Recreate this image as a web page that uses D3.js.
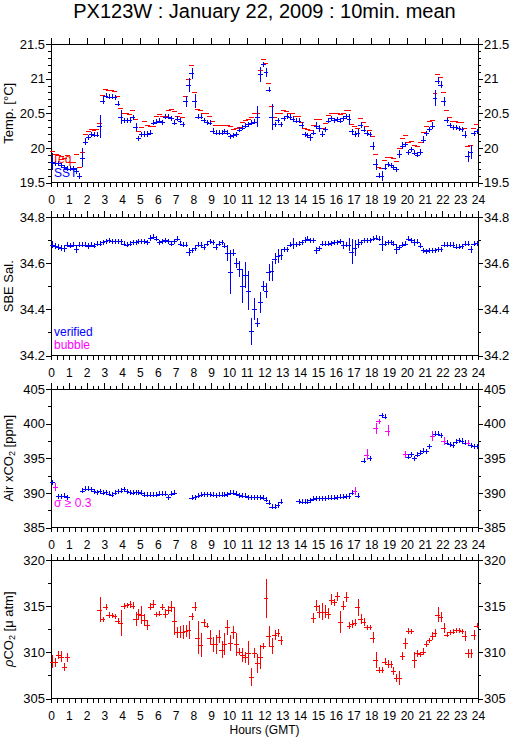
<!DOCTYPE html>
<html>
<head>
<meta charset="utf-8">
<script src="https://cdn.jsdelivr.net/npm/d3@7"></script>
<style>
  body { margin: 0; background: #fff; }
  svg { font-family: "Liberation Sans", Arial, Helvetica, sans-serif; }
</style>
</head>
<body>
<div id="chart"></div>
<script>
// PX123W, 22 Jan 2009 -- 10 minute means, 144 bins per day (null = no data)

// Temperature [degC]
var sst = [19.80,19.78,19.78,19.75,19.72,19.70,19.70,19.70,19.66,19.59,
  19.86,20.09,20.15,20.20,20.19,20.19,20.31,20.68,20.75,20.74,
  20.74,20.73,20.64,20.45,20.40,20.40,20.40,20.44,20.30,20.14,
  20.20,20.20,20.20,20.22,20.36,20.38,20.39,20.37,20.45,20.45,
  20.43,20.36,20.42,20.39,20.34,20.67,20.91,21.08,20.68,20.45,
  20.45,20.40,20.37,20.36,20.25,20.22,20.22,20.22,20.24,20.22,
  20.17,20.18,20.20,20.26,20.29,20.32,20.34,20.36,20.38,20.45,
  21.06,21.21,21.09,20.84,20.45,20.34,20.40,20.34,20.43,20.46,
  20.45,20.42,20.39,20.39,20.33,20.20,20.18,20.15,20.22,20.32,
  20.28,20.20,20.27,20.39,20.43,20.40,20.41,20.39,20.43,20.46,
  20.41,20.24,20.20,20.21,20.33,20.26,20.21,20.20,20.03,19.76,
  19.60,19.59,19.71,19.76,19.75,19.72,19.69,19.91,20.03,20.05,
  19.94,19.98,19.93,19.90,19.94,20.12,20.21,20.27,20.32,20.72,
  20.97,20.91,20.67,20.40,20.33,20.30,20.30,20.28,20.27,20.19,
  19.88,19.94,20.21,20.24];
var sstSd = [.12,.03,.03,.02,.03,.03,.02,.02,.02,.04,
  .14,.05,.02,.02,.02,.02,.17,.05,.02,.02,
  .02,.02,.04,.10,.02,.02,.02,.02,.06,.02,
  .02,.04,.04,.02,.02,.02,.02,.02,.03,.02,
  .02,.02,.02,.02,.04,.08,.10,.08,.10,.04,
  .02,.02,.02,.02,.02,.02,.02,.02,.02,.02,
  .02,.02,.02,.02,.02,.02,.02,.02,.02,.15,
  .11,.03,.07,.02,.19,.03,.03,.03,.03,.02,
  .02,.02,.02,.02,.04,.02,.02,.05,.02,.05,
  .05,.04,.02,.02,.02,.02,.02,.02,.02,.02,
  .08,.02,.05,.06,.04,.02,.02,.02,.06,.08,
  .04,.07,.02,.02,.02,.02,.03,.06,.05,.02,
  .03,.02,.02,.02,.05,.05,.02,.02,.05,.12,
  .05,.05,.07,.02,.02,.02,.02,.02,.02,.05,
  .08,.10,.03,.02];
var teq = [19.96,19.91,19.90,19.88,19.86,19.89,19.80,19.80,19.91,19.72,
  19.94,20.20,20.24,20.27,20.26,20.27,20.36,20.77,20.85,20.84,
  20.83,20.82,20.75,20.57,20.50,20.50,20.49,20.54,20.41,20.24,
  20.30,20.39,20.33,20.31,20.32,20.46,20.49,20.46,20.46,20.55,
  20.56,20.53,20.46,20.51,20.45,20.75,20.99,21.19,20.81,20.56,
  20.54,20.51,20.50,20.46,20.39,20.33,20.33,20.33,20.33,20.33,
  20.32,20.27,20.28,20.30,20.37,20.40,20.41,20.45,20.50,20.50,
  21.12,21.29,21.22,20.94,20.61,20.45,20.50,20.50,20.55,20.53,
  20.50,20.50,20.46,20.46,20.38,20.28,20.27,20.26,20.33,20.41,
  20.41,20.29,20.36,20.47,20.51,20.51,20.51,20.49,20.50,20.55,
  20.55,20.34,20.31,20.28,20.43,20.38,20.31,20.26,20.17,19.91,
  19.72,19.71,19.82,19.87,19.87,19.85,19.81,20.00,20.14,20.18,
  20.08,20.10,20.04,20.03,20.09,20.23,20.31,20.39,20.40,20.79,
  21.07,21.02,20.80,20.55,20.44,20.39,20.39,20.38,20.38,20.28,
  20.02,20.04,20.29,20.34];

// SBE salinity
var sal = [34.680,34.675,34.670,34.665,34.665,34.680,34.675,34.680,34.660,34.680,
  34.680,34.680,34.675,34.680,34.675,34.685,34.685,34.690,34.695,34.700,
  34.695,34.695,34.695,34.695,34.685,34.680,34.685,34.690,34.690,34.695,
  34.695,34.695,34.690,34.710,34.715,34.705,34.690,34.695,34.700,34.695,
  34.685,34.695,34.705,34.685,34.680,34.680,34.650,34.655,34.665,34.680,
  34.680,34.670,34.685,34.695,34.690,34.670,34.685,34.690,34.675,34.645,
  34.560,34.645,34.600,34.575,34.500,34.550,34.480,34.305,34.400,34.342,
  34.430,34.500,34.480,34.560,34.565,34.620,34.630,34.635,34.660,34.660,
  34.680,34.685,34.682,34.685,34.690,34.700,34.705,34.700,34.700,34.655,
  34.665,34.685,34.685,34.685,34.687,34.690,34.690,34.695,34.680,34.680,
  34.680,34.650,34.665,34.685,34.690,34.700,34.700,34.700,34.705,34.710,
  34.705,34.684,34.685,34.690,34.690,34.685,34.660,34.670,34.680,34.685,
  34.705,34.700,34.690,34.692,34.676,34.655,34.652,34.657,34.655,34.655,
  34.660,34.660,34.680,34.680,34.680,34.680,34.672,34.672,34.674,34.684,
  34.684,34.660,34.684,34.687];
var salSd = [.015,.012,.012,.012,.015,.010,.008,.010,.017,.008,
  .012,.012,.012,.008,.008,.008,.008,.008,.008,.008,
  .008,.008,.008,.008,.008,.008,.008,.008,.008,.008,
  .008,.008,.008,.012,.008,.008,.008,.008,.008,.008,
  .008,.008,.008,.008,.008,.008,.017,.012,.012,.008,
  .008,.008,.008,.008,.008,.008,.008,.008,.008,.035,
  .095,.015,.022,.036,.073,.057,.084,.058,.047,.020,
  .044,.022,.033,.036,.044,.025,.030,.022,.012,.012,
  .012,.024,.010,.010,.010,.012,.008,.008,.008,.016,
  .008,.008,.008,.008,.008,.008,.012,.008,.018,.008,
  .029,.053,.036,.018,.008,.008,.008,.008,.008,.008,
  .008,.033,.008,.008,.008,.008,.022,.008,.008,.012,
  .008,.008,.015,.008,.008,.012,.008,.008,.008,.008,
  .008,.008,.008,.008,.008,.008,.008,.008,.008,.008,
  .008,.015,.008,.008];

// Air xCO2 [ppm]
var airCo2 = [391.57,390.8,389.5,389.5,389.6,389.4,null,null,null,null,
  390.3,390.6,390.6,390.5,390.2,390.1,390.2,390.0,390.1,389.9,
  389.76,390.0,390.2,390.3,390.5,390.2,390.1,390.0,390.1,390.1,
  390.0,389.76,389.76,389.76,389.76,389.76,389.9,389.9,389.9,389.4,
  389.9,390.0,null,null,null,null,null,389.3,389.4,389.6,
  389.76,389.8,389.8,389.8,389.76,389.67,389.76,389.76,389.76,389.8,
  390.0,390.0,389.9,389.67,389.6,389.6,389.4,389.4,389.38,389.38,
  389.38,389.3,389.0,388.57,388.0,388.0,388.2,388.7,null,null,
  null,null,null,388.8,388.7,388.7,388.7,388.9,389.14,389.24,
  389.24,389.2,389.2,389.3,389.3,389.3,389.38,389.43,389.47,389.52,
  389.52,390.0,390.24,389.6,null,394.67,395.5,395.0,null,399.3,
  400.33,401.2,401.0,399.0,null,null,null,null,null,395.6,
  395.2,395.6,395.0,395.5,395.8,396.05,396.0,396.76,398.2,398.57,
  398.57,398.33,397.5,397.24,397.0,396.9,397.4,397.6,397.55,397.24,
  397.24,396.9,396.76,396.7];
var airSd = [.20,.60,.12,.12,.12,.12,0,0,0,0,
  .12,.12,.12,.12,.12,.12,.12,.12,.12,.12,
  .12,.12,.12,.12,.12,.12,.12,.12,.12,.12,
  .12,.12,.12,.12,.12,.12,.12,.12,.12,.12,
  .12,.12,0,0,0,0,0,.12,.12,.12,
  .12,.12,.12,.12,.12,.12,.12,.12,.12,.12,
  .12,.12,.12,.12,.12,.12,.12,.12,.12,.12,
  .12,.12,.12,.12,.12,.12,.12,.12,0,0,
  0,0,0,.12,.12,.12,.12,.12,.12,.12,
  .12,.12,.12,.12,.12,.12,.12,.12,.12,.12,
  .12,.30,.55,.12,0,.40,.80,.30,0,.80,
  .40,.20,.20,.85,0,0,0,0,0,.50,
  .12,.12,.12,.12,.12,.12,.12,.12,.70,.20,
  .12,.12,.60,.12,.12,.12,.12,.12,.12,.12,
  .35,.12,.12,.12];
// bins with sigma >= 0.3 (drawn magenta)
var airFlagged = [1, 102, 106, 109, 110, 113, 119, 128, 132, 140];

// Seawater pCO2 [uatm]
var pco2 = [309.0,308.9,309.7,309.5,308.4,309.45,null,null,null,null,
  null,null,null,null,null,null,314.6,313.6,314.9,314.06,
  314.0,313.9,313.4,313.15,315.0,315.1,315.2,315.07,313.6,314.1,
  314.06,313.5,312.97,314.96,315.2,314.1,314.2,314.9,314.17,314.6,
  314.96,313.4,312.17,312.17,312.25,312.3,312.4,313.9,314.96,311.6,
  310.8,313.26,312.86,311.6,310.87,310.87,311.7,310.3,310.87,312.7,
  311.0,312.17,310.87,310.07,309.7,309.45,309.9,307.3,309.9,308.8,
  309.5,310.7,315.87,311.8,310.7,311.9,312.1,311.3,null,null,
  null,null,null,null,null,null,null,null,313.7,315.07,
  314.4,314.4,314.4,314.2,315.7,315.4,316.05,313.26,315.07,315.98,
  312.9,313.04,313.2,314.86,313.6,313.26,312.7,312.7,311.6,309.17,
  308.08,308.08,309.0,308.7,308.7,307.97,307.25,307.25,309.6,310.98,
  312.3,312.3,309.17,309.9,309.8,310.07,310.87,311.3,311.8,312.06,
  314.06,313.8,312.6,311.9,312.17,312.25,312.4,312.4,312.3,311.8,
  309.9,309.9,311.9,312.86];
var pco2Sd = [.72,.45,.43,.60,.42,.45,0,0,0,0,
  0,0,0,0,0,0,1.35,.27,.36,.36,
  .20,.20,.36,1.40,.30,.25,.36,.40,.80,.55,
  .95,.60,.55,.36,.45,.27,.30,.30,.47,.40,
  .58,1.50,.60,.63,.76,.63,1.00,.36,.47,1.75,
  1.30,.36,.27,.80,.78,1.00,.72,.90,1.20,.80,
  .90,.70,1.27,.36,.72,.63,1.30,1.00,.55,1.00,
  1.27,.36,2.10,1.10,.90,.55,.45,.47,0,0,
  0,0,0,0,0,0,0,0,.55,.60,
  .72,.90,.72,.58,.58,.40,.45,1.18,.45,.58,
  .42,.45,.36,.90,.50,.45,.27,.24,.58,.90,
  .36,.36,.36,.45,.36,.45,.45,.78,.45,.58,
  .33,.27,.90,.36,.27,.36,.33,.30,.42,.42,
  .80,.55,.55,.22,.24,.20,.20,.20,.27,.55,
  .47,.47,.55,.25];

// tick labels
var hourLabels = [0,1,2,3,4,5,6,7,8,9,10,11,12,13,14,15,16,17,18,19,20,21,22,23,24];
var tempTicks = [19.5, 20, 20.5, 21, 21.5];
var salTicks = [34.2, 34.4, 34.6, 34.8];
var airTicks = [385, 390, 395, 400, 405];
var pco2Ticks = [305, 310, 315, 320];

// layout
var W = 515, H = 739,
    plotLeft = 51, plotRight = 478,
    panelTops = [44, 217, 389, 560],
    panelHeight = 138.5;

var BLUE = "#0000ff", RED = "#ff0000", MAGENTA = "#ff00ff";

var panels = [
  {domain: [19.5, 21.5], ticks: tempTicks, minor: 0.1, title: [["Temp. [°C]"]],
   series: [{values: teq, color: RED, dash: true},
            {values: sst, sd: sstSd, color: BLUE}],
   legend: [{text: "Teq", color: RED, y: 163, x: 52}, {text: "SST", color: BLUE, y: 177, x: 54}]},
  {domain: [34.2, 34.8], ticks: salTicks, minor: 0.1, title: [["SBE Sal."]],
   series: [{values: sal, sd: salSd, color: BLUE}],
   legend: [{text: "verified", color: BLUE, y: 336, x: 54}, {text: "bubble", color: MAGENTA, y: 349, x: 54}]},
  {domain: [385, 405], ticks: airTicks, minor: 2.5, title: [["Air xCO"], ["2", "sub"], [" [ppm]"]],
   series: [{values: airCo2, sd: airSd, color: BLUE, flagged: airFlagged, flagColor: MAGENTA}],
   legend: [{text: "σ ≥ 0.3", color: MAGENTA, y: 507, x: 54}]},
  {domain: [305, 320], ticks: pco2Ticks, minor: 2.5, title: [["ρ", "it"], ["CO"], ["2", "sub"], [" [μ atm]"]],
   series: [{values: pco2, sd: pco2Sd, color: RED}],
   legend: []}
];

var x = d3.scaleLinear().domain([0, 24]).range([plotLeft, plotRight]);
var binW = 1 / 6;   // 10 min in hours

var svg = d3.select("#chart")
  .append("svg")
    .attr("width", W)
    .attr("height", H);

// title
svg.append("text")
    .attr("x", (plotLeft + plotRight) / 2)
    .attr("y", 18)
    .attr("text-anchor", "middle")
    .style("font-size", "20px")
    .text("PX123W : January 22, 2009 : 10min. mean");

function styleAxis(g) {
  g.select(".domain").remove();
  g.selectAll("line").attr("stroke", "#000").attr("shape-rendering", "crispEdges");
  g.attr("font-family", null).attr("font-size", null);
}

// snap to pixel centres so 1px lines stay sharp
function px(v) { return Math.round(v) + 0.5; }

panels.forEach(function(p, k) {
  var top = panelTops[k], bottom = top + panelHeight;
  var y = d3.scaleLinear().domain(p.domain).range([bottom, top]);
  var g = svg.append("g");

  var minorY = d3.range(p.domain[0], p.domain[1] + p.minor / 2, p.minor);
  var minorX = d3.range(0, 24 + 0.01, 1 / 3);

  // y axes, left and right
  g.append("g").attr("transform", "translate(" + plotLeft + ",0)")
    .call(d3.axisLeft(y).tickValues(minorY).tickSize(3).tickFormat(""))
    .call(styleAxis);
  g.append("g").attr("transform", "translate(" + plotLeft + ",0)")
    .call(d3.axisLeft(y).tickValues(p.ticks).tickSize(5).tickPadding(1).tickFormat(d3.format("")))
    .call(styleAxis)
    .selectAll("text").style("font-size", "13px");
  g.append("g").attr("transform", "translate(" + plotRight + ",0)")
    .call(d3.axisRight(y).tickValues(minorY).tickSize(3).tickFormat(""))
    .call(styleAxis);
  g.append("g").attr("transform", "translate(" + plotRight + ",0)")
    .call(d3.axisRight(y).tickValues(p.ticks).tickSize(5).tickPadding(1).tickFormat(d3.format("")))
    .call(styleAxis)
    .selectAll("text").style("font-size", "13px");

  // x axes: hourly on top (plus 20 min ticks below the first panel), 20 min ticks + labels at the bottom
  g.append("g").attr("transform", "translate(0," + top + ")")
    .call(d3.axisTop(x).tickValues(hourLabels).tickSize(6).tickFormat(""))
    .call(styleAxis);
  if (k > 0) {
    g.append("g").attr("transform", "translate(0," + top + ")")
      .call(d3.axisTop(x).tickValues(minorX).tickSize(3).tickFormat(""))
      .call(styleAxis);
  }
  g.append("g").attr("transform", "translate(0," + bottom + ")")
    .call(d3.axisBottom(x).tickValues(minorX).tickSize(4).tickFormat(""))
    .call(styleAxis);
  g.append("g").attr("transform", "translate(0," + bottom + ")")
    .call(d3.axisBottom(x).tickValues(hourLabels).tickSize(4).tickPadding(8.5))
    .call(styleAxis)
    .selectAll("text").style("font-size", "12px");

  // frame
  g.append("rect")
    .attr("x", plotLeft).attr("y", top)
    .attr("width", plotRight - plotLeft).attr("height", panelHeight)
    .attr("fill", "none").attr("stroke", "#000")
    .attr("shape-rendering", "crispEdges");

  // y title, rotated
  var t = g.append("text")
    .attr("transform", "translate(12.5," + (top + panelHeight / 2) + ") rotate(-90)")
    .attr("text-anchor", "middle")
    .style("font-size", "13px");
  p.title.forEach(function(part) {
    var ts = t.append("tspan").text(part[0]);
    if (part[1] === "sub") ts.attr("baseline-shift", "-25%").style("font-size", "9px");
    if (part[1] === "it") ts.style("font-style", "italic");
  });

  // data: horizontal bar = 10 min bin, vertical bar = std dev
  var marks = g.append("g").attr("shape-rendering", "crispEdges");
  p.series.forEach(function(s) {
    var pts = [];
    s.values.forEach(function(v, i) {
      if (v === null) return;
      var flag = s.flagged && s.flagged.indexOf(i) >= 0;
      pts.push({i: i, v: v, sd: s.sd ? s.sd[i] : 0, color: flag ? s.flagColor : s.color});
    });

    marks.selectAll(null)
      .data(pts)
      .enter().append("line")
        .attr("x1", function(d) { return Math.round(x(d.i * binW)) - 1; })
        .attr("x2", function(d) { return Math.round(x((d.i + 1) * binW)) + 1; })
        .attr("y1", function(d) { return px(y(d.v)); })
        .attr("y2", function(d) { return px(y(d.v)); })
        .attr("stroke", function(d) { return d.color; })
        .attr("stroke-width", 1);

    if (!s.dash) {
      marks.selectAll(null)
        .data(pts)
        .enter().append("line")
          .attr("x1", function(d) { return px(x((d.i + 0.5) * binW)); })
          .attr("x2", function(d) { return px(x((d.i + 0.5) * binW)); })
          .attr("y1", function(d) { return Math.round(Math.min(y(d.v + d.sd), y(d.v) - 2.5)); })
          .attr("y2", function(d) { return Math.round(Math.max(y(d.v - d.sd), y(d.v) + 2.5)); })
          .attr("stroke", function(d) { return d.color; })
          .attr("stroke-width", 1);
    }
  });

  // legend
  g.selectAll(null)
    .data(p.legend)
    .enter().append("text")
      .attr("x", function(d) { return d.x; })
      .attr("y", function(d) { return d.y; })
      .attr("fill", function(d) { return d.color; })
      .style("font-size", "12px")
      .text(function(d) { return d.text; });
});

svg.append("text")
    .attr("x", x(12))
    .attr("y", 734)
    .attr("text-anchor", "middle")
    .style("font-size", "12px")
    .text("Hours (GMT)");
</script>
</body>
</html>
